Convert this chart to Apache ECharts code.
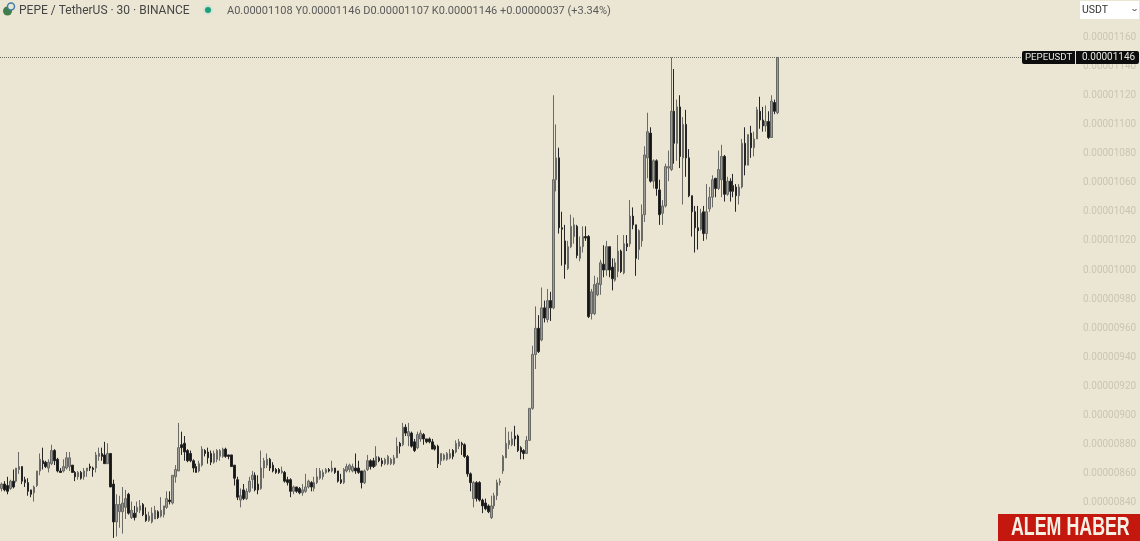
<!DOCTYPE html>
<html><head><meta charset="utf-8">
<style>html,body{margin:0;padding:0;background:#ebe6d4}#c{width:1140px;height:541px}</style>
<script src="https://cdn.jsdelivr.net/npm/echarts@6/dist/echarts.min.js"></script>
</head><body><div id="c"></div>
<script>
// Prices in units of 1e-8 USDT. Each row: [open, close, low, high]
const sessionA=[[850,853,848,854],[853,849,848,855],[852,848,846,858],[850,855,849,856],[855,851,850,863],[855,864,854,864],[863,865,860,875],[865,855,853,865],[856,854,851,858],[854,848,845,857],[849,846,844,849],[847,851,841,852],[852,862,851,862],[862,870,859,874],[869,867,863,878],[868,865,864,869],[864,868,861,870],[867,876,866,880],[876,869,866,877],[870,862,861,871],[862,861,861,864],[862,865,861,870],[864,871,863,875],[865,871,862,875],[866,861,861,866],[861,858,855,862],[858,861,856,862],[861,857,856,862],[858,862,856,864],[862,864,858,864],[865,864,862,867],[864,863,858,865],[864,873,861,875],[872,874,869,878],[874,872,869,878],[873,867,867,882],[867,874,867,881],[874,851,851,874],[853,827,816,856],[827,839,817,846],[834,839,823,845],[834,840,819,851],[837,843,829,849],[846,833,832,847]];
const sessionB=[[830,835,829,841],[833,830,828,838],[834,837,830,841],[835,838,833,842],[839,832,831,840],[832,828,827,837],[828,831,827,834],[827,833,826,837],[829,835,829,838],[834,830,829,835],[831,835,830,844],[832,838,830,838],[837,843,836,848],[842,841,839,848],[840,859,839,859],[858,863,854,866],[862,878,862,895],[880,878,873,889],[881,875,869,886],[876,869,868,877],[874,869,868,876],[869,864,861,870],[865,861,861,867],[862,867,861,869],[866,877,865,879],[876,874,872,877],[875,871,867,878],[874,868,866,876],[868,874,867,876],[870,876,868,877],[872,876,869,877],[872,877,871,878],[877,872,871,878],[873,872,870,873],[873,865,865,873],[866,857,852,866],[856,844,842,858],[842,845,837,850],[849,843,842,853],[843,848,842,850],[848,855,847,858],[856,859,850,862],[859,849,848,861],[853,849,846,859]];
const sessionC=[[850,864,849,876],[864,869,857,871],[866,870,864,874],[870,864,862,871],[866,862,861,868],[863,861,860,864],[863,861,860,864],[861,862,860,865],[861,855,854,862],[856,854,852,858],[856,848,844,857],[848,851,846,852],[851,848,847,851],[850,847,846,851],[847,849,845,853],[848,851,847,860],[851,855,850,856],[854,851,848,855],[850,854,848,858],[854,858,853,864],[857,862,856,864],[858,861,856,863],[861,863,860,864],[863,862,861,864],[862,864,861,869],[864,861,860,864],[862,855,854,862],[856,854,853,860],[854,863,853,864],[862,865,861,867],[863,866,861,867],[862,865,861,867],[864,862,860,874],[864,861,860,869],[862,854,850,862],[854,862,853,863],[863,869,862,873],[869,865,863,870],[869,865,864,871],[866,872,865,879],[871,869,868,872],[869,867,865,871],[867,870,866,871],[867,872,866,873],[867,870,866,871],[867,871,866,873]];
const sessionD=[[871,879,871,885],[881,879,874,882],[880,892,879,895],[892,888,886,894],[886,889,879,895],[888,879,878,889],[882,876,875,884],[878,887,877,889],[884,888,882,890],[887,884,880,888],[884,882,881,884],[884,882,881,885],[882,877,877,884],[879,877,876,880],[879,867,864,880],[869,874,866,874],[870,873,869,874],[870,874,869,875],[871,874,870,877],[876,872,870,877],[875,881,874,883],[879,882,877,884],[881,880,873,882],[880,872,871,881],[872,860,858,873],[860,854,848,861],[843,854,837,855],[854,843,841,855],[854,842,841,855],[842,838,833,843],[840,836,835,843],[838,834,833,839],[830,838,829,845],[838,845,836,847],[845,854,842,856],[854,855,852,857]];
const sessionE=[[862,872,860,873],[871,881,871,892],[880,883,877,889],[880,884,879,889],[886,884,879,893],[886,876,875,887],[878,875,870,879],[876,874,870,877],[874,883,874,886],[883,905,883,905],[905,942,904,948],[942,960,932,975],[960,944,943,969],[952,974,951,988],[974,967,964,979],[966,979,964,987],[979,974,965,985],[974,1062,973,1120],[1062,1077,1054,1100],[1077,1029,1025,1084]];
const sessionF=[[1029,1028,1003,1040],[1020,1004,994,1031],[1001,1016,1000,1020],[1016,1030,1015,1038],[1023,1031,1018,1036],[1030,1010,1008,1031],[1008,1016,1006,1023],[1016,1023,1012,1030],[1023,1022,1020,1030],[1023,968,967,1024],[970,985,966,987],[970,990,969,996],[983,991,982,995],[990,1005,983,1007],[1004,1000,995,1017],[1000,1016,996,1020],[1016,1000,995,1016],[1002,994,986,1008],[993,1005,992,1008],[999,1013,995,1024],[1013,999,998,1014],[998,1018,997,1024],[1018,1016,1013,1024],[1018,1037,1016,1048],[1037,1031,1028,1043],[1031,1008,996,1031],[1014,1027,1007,1028],[1020,1038,1016,1045]];
const sessionG=[[1038,1079,1033,1085],[1077,1095,1063,1108],[1094,1061,1060,1098],[1061,1075,1056,1076],[1075,1056,1051,1076],[1055,1038,1031,1062],[1039,1044,1031,1048],[1044,1071,1043,1073],[1070,1071,1061,1082],[1069,1109,1068,1146],[1109,1087,1073,1138],[1087,1112,1075,1117],[1112,1078,1070,1120],[1077,1100,1045,1105],[1100,1077,1064,1110],[1077,1051,1050,1083],[1051,1040,1023,1051],[1040,1029,1012,1044],[1029,1027,1014,1044],[1028,1039,1027,1042],[1040,1025,1020,1044],[1025,1040,1021,1059],[1042,1050,1040,1057]];
const sessionH=[[1050,1062,1043,1065],[1063,1056,1050,1063],[1056,1069,1055,1082],[1062,1078,1050,1086],[1078,1052,1047,1079],[1052,1061,1051,1064],[1061,1054,1047,1063],[1058,1054,1050,1066],[1057,1051,1040,1059],[1051,1057,1045,1059],[1057,1087,1056,1090],[1087,1072,1065,1098],[1072,1093,1072,1093],[1094,1084,1077,1099],[1084,1090,1078,1095],[1090,1110,1090,1112],[1109,1103,1097,1119],[1103,1099,1095,1112],[1099,1102,1095,1113],[1102,1091,1090,1109],[1091,1116,1091,1120],[1115,1109,1107,1117],[1108,1146,1107,1146]];
const lastPrice=1146;
const symbolText='PEPEUSDT';
const titleText='PEPE / TetherUS · 30 · BINANCE';
const ohlcText='A0.00001108 Y0.00001146 D0.00001107 K0.00001146 +0.00000037 (+3.34%)';
const quoteText='USDT';
const brandText='ALEM HABER';
const emptySlots=365;

const candles=[].concat(sessionA,sessionB,sessionC,sessionD,sessionE,sessionF,sessionG,sessionH);
const categories=Array.from({length:emptySlots},(_,i)=>String(i));
const fmt=v=>(v/1e8).toFixed(8);
const chart=echarts.init(document.getElementById('c'),null,{renderer:'canvas'});
const ui='Roboto, "Liberation Sans", sans-serif';
chart.setOption({
 animation:false,backgroundColor:'#ebe6d4',
 grid:{left:0,width:1077,top:-21.24,height:582.48,containLabel:false,outerBoundsMode:'none'},
 xAxis:{type:'category',data:categories,show:false,boundaryGap:true},
 yAxis:{type:'value',position:'right',min:800,max:1200,interval:20,scale:true,
  axisLine:{show:false},axisTick:{show:false},splitLine:{show:false},
  axisLabel:{formatter:fmt,color:'#c9c5b4',fontSize:10,fontFamily:ui,margin:6}},
 series:[{type:'candlestick',data:candles,barWidth:2,clip:false,
  itemStyle:{color:'#9a9a98',color0:'#141414',borderColor:'#6a6a66',borderColor0:'#262626',borderWidth:1},
  markLine:{silent:true,symbol:'none',animation:false,label:{show:false},
   lineStyle:{color:'#6a6a5e',type:[1,1],width:1},data:[{yAxis:lastPrice}]}}]
});
const py=chart.convertToPixel({yAxisIndex:0},lastPrice);
chart.setOption({graphic:[
 {type:'circle',shape:{cx:7.5,cy:11,r:4.5},style:{fill:'#3f7d4a'},z:10},
 {type:'circle',shape:{cx:11,cy:6.5,r:3.5},style:{fill:'#ebe6d4',stroke:'#3f7fa8',lineWidth:1.5},z:11},
 {type:'text',x:19,y:11,style:{text:titleText,fill:'#454545',font:'12px '+ui,textVerticalAlign:'middle'},z:10},
 {type:'circle',shape:{cx:208,cy:10,r:5},style:{fill:'#cfe3d2'},z:10},
 {type:'circle',shape:{cx:208,cy:10,r:3},style:{fill:'#1f9d78'},z:11},
 {type:'text',x:227,y:11,style:{text:ohlcText,fill:'#5a5a5a',font:'11px '+ui,textVerticalAlign:'middle'},z:10},
 {type:'rect',shape:{x:1080,y:1,width:59,height:18},style:{fill:'#ffffff'},z:10},
 {type:'text',x:1082,y:10.5,style:{text:quoteText,fill:'#333',font:'10.5px '+ui,textVerticalAlign:'middle'},z:11},
 {type:'polyline',shape:{points:[[1132.5,9],[1134.5,11],[1136.5,9]]},style:{stroke:'#333',lineWidth:1,fill:null},z:11},
 {type:'rect',shape:{x:1022,y:py-6.5,width:53,height:13,r:[2,0,0,2]},style:{fill:'#0d0d0d'},z:10},
 {type:'text',x:1025,y:py,style:{text:symbolText,fill:'#e6e6e0',font:'9.7px '+ui,textVerticalAlign:'middle'},z:11},
 {type:'rect',shape:{x:1076,y:py-6.5,width:63,height:13,r:[0,2,2,0]},style:{fill:'#0d0d0d'},z:10},
 {type:'text',x:1082,y:py,style:{text:fmt(lastPrice),fill:'#e6e6e0',font:'10px '+ui,textVerticalAlign:'middle'},z:11},
 {type:'rect',shape:{x:998,y:514,width:142,height:27},style:{fill:'#c4170e'},z:12},
 {type:'text',x:1011,y:528,scaleX:0.685,style:{text:brandText,fill:'#f6f0e4',font:'bold 26px "Liberation Sans", sans-serif',textAlign:'left',textVerticalAlign:'middle'},z:13}
]});
</script></body></html>
